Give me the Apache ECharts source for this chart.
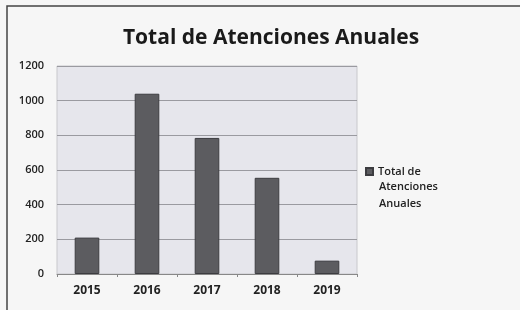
<!DOCTYPE html>
<html><head><meta charset="utf-8">
<script src="https://cdn.jsdelivr.net/npm/echarts@6/dist/echarts.min.js"></script>
<style>html,body{margin:0;padding:0;background:#f6f6f6}#c{width:520px;height:310px}</style>
</head><body><div id="c"></div>
<script>
const categories = ['2015','2016','2017','2018','2019'];
const values = [210, 1040, 785, 555, 77];
const seriesName = 'Total de Atenciones Anuales';
const legendLines = ['Total de', 'Atenciones', 'Anuales'];
const yTicks = [0, 200, 400, 600, 800, 1000, 1200];

const chart = echarts.init(document.getElementById('c'));
chart.setOption({
  backgroundColor: '#f6f6f6',
  animation: false,
  title: {
    text: 'Total de Atenciones Anuales',
    left: 266, top: 23, textAlign: 'center',
    textStyle: {fontFamily: 'Open Sans', fontWeight: 'bold', fontSize: 21, color: '#1a1a1a'}
  },
  graphic: [{
    type: 'polyline', silent: true,
    shape: {points: [[7, 310], [7, 6], [520, 6]]},
    style: {stroke: '#444', lineWidth: 1.5, fill: null}
  }, {
    type: 'text', silent: true, left: 379, top: 178,
    style: {text: legendLines.slice(1).join('\n'), fontFamily: 'Open Sans', fontSize: 11, fontWeight: 600, fill: '#222', lineHeight: 17}
  }],
  legend: {
    left: 360, top: 161, orient: 'vertical',
    icon: 'rect', itemWidth: 7, itemHeight: 7, itemGap: 3,
    data: [seriesName],
    formatter: function(){ return legendLines[0]; },
    textStyle: {fontFamily: 'Open Sans', fontSize: 11, fontWeight: 600, color: '#222'}
  },
  grid: {left: 57, right: 163, top: 66, bottom: 36, show: true, backgroundColor: '#e6e6ec', borderColor: '#c8c8cc', borderWidth: 1},
  xAxis: {
    type: 'category', data: categories,
    axisLine: {lineStyle: {color: '#888'}},
    axisTick: {show: true, length: 3, lineStyle: {color: '#888'}},
    axisLabel: {fontFamily: 'Open Sans', fontWeight: 'bold', fontSize: 12, color: '#222', margin: 11}
  },
  yAxis: {
    type: 'value', min: yTicks[0], max: yTicks[yTicks.length-1], interval: 200,
    axisLine: {show: false}, axisTick: {show: false},
    splitLine: {lineStyle: {color: '#9a9aa0'}},
    axisLabel: {fontFamily: 'Open Sans', fontSize: 11, fontWeight: 600, color: '#222', margin: 13,
      formatter: function(v){ return String(v); }}
  },
  series: [{
    name: seriesName, type: 'bar', data: values, barWidth: '41%',
    itemStyle: {color: '#5c5c60', borderColor: '#3c3c40', borderWidth: 1}
  }]
});
</script></body></html>
